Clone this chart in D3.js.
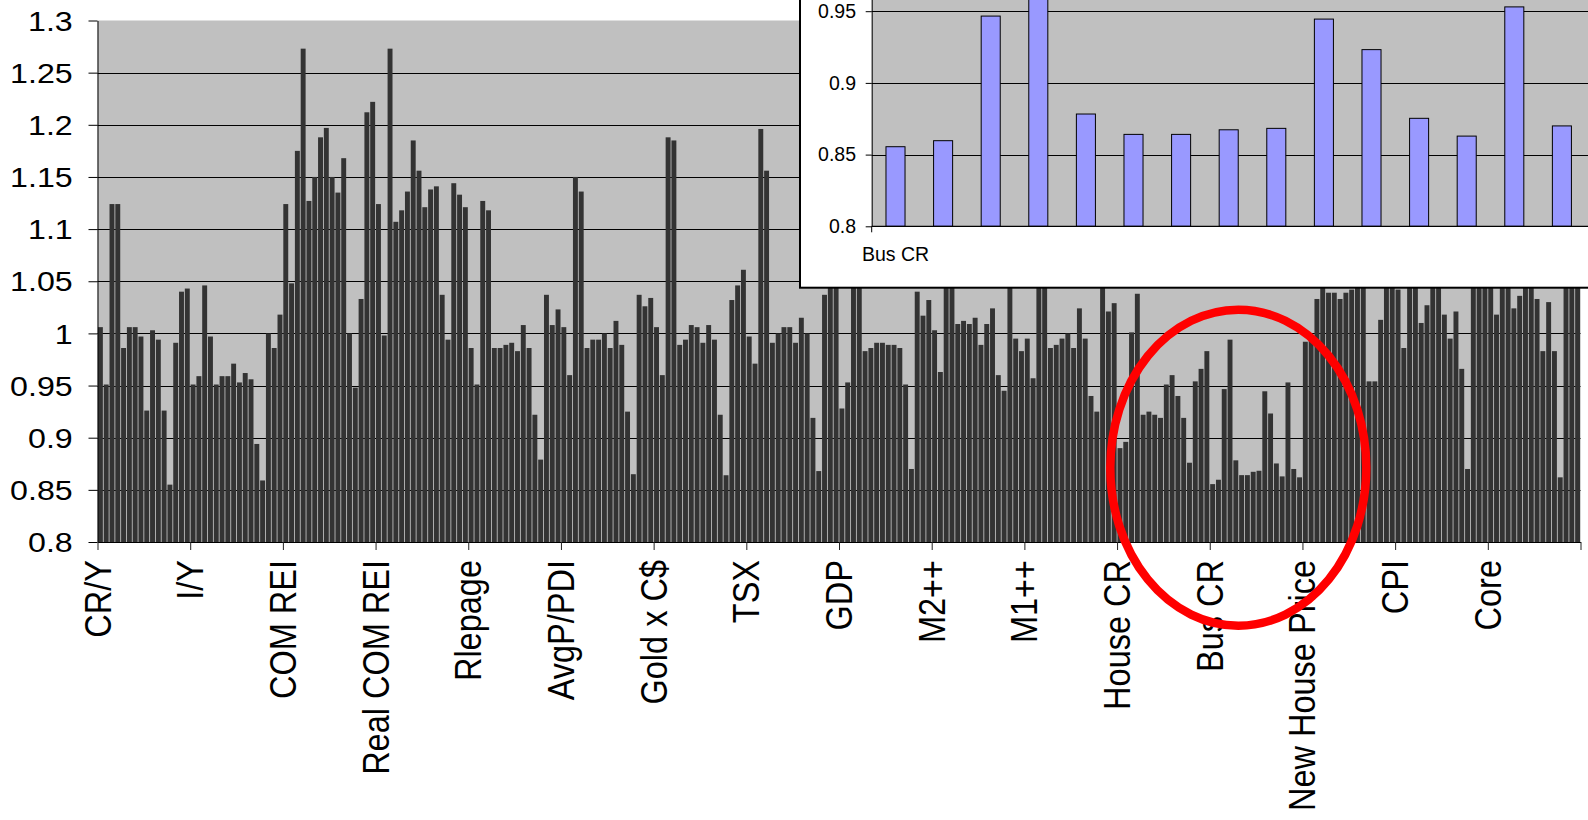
<!DOCTYPE html>
<html>
<head>
<meta charset="utf-8">
<script src="https://cdn.jsdelivr.net/npm/d3@7"></script>
<style>
  html, body { margin: 0; padding: 0; background: #fff; overflow: hidden; }
  svg { display: block; font-family: "Liberation Sans", Arial, sans-serif; }
</style>
</head>
<body>
<svg id="chart" width="1588" height="820"></svg>
<script>
// Indicator groups along the category axis (16 periods per indicator)
const categories = ["CR/Y", "I/Y", "COM REI", "Real COM REI", "Rlepage", "AvgP/PDI", "Gold x C$", "TSX",
                    "GDP", "M2++", "M1++", "House CR", "Bus CR", "New House Price", "CPI", "Core"];

// Ratio values, one array per indicator
const crY        = [1.006, 0.951, 1.124, 1.124, 0.986, 1.006, 1.006, 0.997, 0.926, 1.003, 0.994, 0.926, 0.855, 0.991, 1.040, 1.043];
const iY         = [0.951, 0.959, 1.046, 0.997, 0.951, 0.959, 0.959, 0.971, 0.953, 0.962, 0.956, 0.894, 0.859, 1.000, 0.986, 1.018];
const comREI     = [1.124, 1.048, 1.175, 1.273, 1.127, 1.150, 1.188, 1.197, 1.150, 1.135, 1.168, 1.000, 0.948, 1.033, 1.212, 1.222];
const realComREI = [1.124, 0.998, 1.273, 1.107, 1.118, 1.136, 1.185, 1.156, 1.121, 1.138, 1.141, 1.037, 0.994, 1.144, 1.133, 1.121];
const rlepage    = [0.986, 0.951, 1.127, 1.118, 0.986, 0.986, 0.989, 0.991, 0.983, 1.008, 0.986, 0.922, 0.879, 1.037, 1.008, 1.023];
const avgPPDI    = [1.006, 0.960, 1.150, 1.136, 0.986, 0.994, 0.994, 1.000, 0.986, 1.012, 0.989, 0.925, 0.865, 1.037, 1.026, 1.034];
const goldCAD    = [1.006, 0.960, 1.188, 1.185, 0.989, 0.994, 1.008, 1.006, 0.991, 1.008, 0.994, 0.922, 0.864, 1.032, 1.046, 1.061];
const tsx        = [0.997, 0.971, 1.196, 1.156, 0.991, 1.000, 1.006, 1.006, 0.991, 1.015, 1.000, 0.919, 0.868, 1.037, 1.075, 1.095];
const gdp        = [0.928, 0.953, 1.062, 1.085, 0.983, 0.986, 0.991, 0.991, 0.989, 0.989, 0.986, 0.951, 0.870, 1.040, 1.017, 1.032];
const m2pp       = [1.003, 0.963, 1.070, 1.052, 1.009, 1.012, 1.009, 1.015, 0.989, 1.009, 1.024, 0.960, 0.945, 1.058, 0.995, 0.983];
const m1pp       = [0.995, 0.957, 1.060, 1.090, 0.986, 0.989, 0.995, 1.000, 0.986, 1.024, 0.995, 0.940, 0.925, 1.050, 1.021, 1.029];
const houseCR    = [0.890, 0.896, 1.001, 1.038, 0.922, 0.925, 0.922, 0.919, 0.951, 0.960, 0.940, 0.919, 0.876, 0.954, 0.966, 0.983];
const busCR      = [0.8555, 0.8597, 0.9466, 0.994, 0.8783, 0.8641, 0.8641, 0.8673, 0.8683, 0.9445, 0.9232, 0.8753, 0.8629, 0.953, 0.870, 0.862];
const newHouse   = [0.992, 0.996, 1.033, 1.055, 1.039, 1.039, 1.033, 1.039, 1.042, 1.065, 1.080, 0.954, 0.954, 1.013, 1.070, 1.060];
const cpi        = [1.042, 0.986, 1.090, 1.110, 1.010, 1.027, 1.075, 1.060, 1.018, 0.995, 1.021, 0.966, 0.870, 1.085, 1.100, 1.065];
const core       = [1.070, 1.018, 1.060, 1.080, 1.024, 1.036, 1.055, 1.070, 1.033, 0.983, 1.030, 0.983, 0.862, 1.090, 1.075, 1.060];

// Value-axis ticks
const yTickValues = [0.8, 0.85, 0.9, 0.95, 1.0, 1.05, 1.1, 1.15, 1.2, 1.25, 1.3];
const yTickLabels = ["0.8", "0.85", "0.9", "0.95", "1", "1.05", "1.1", "1.15", "1.2", "1.25", "1.3"];

// Detail panel (Bus CR close-up)
const insetCategory = "Bus CR";
const insetTickValues = [0.8, 0.85, 0.9, 0.95];
const insetTickLabels = ["0.8", "0.85", "0.9", "0.95"];
const insetMax = 1.0;

const seriesByGroup = [crY, iY, comREI, realComREI, rlepage, avgPPDI, goldCAD, tsx,
                       gdp, m2pp, m1pp, houseCR, busCR, newHouse, cpi, core];
const values = seriesByGroup.flat();
const nGroups = categories.length;

const svg = d3.select("#chart");

// ---------- main chart ----------
const M = { left: 97.5, right: 1580.5, top: 20.5, bottom: 542 };
const x = d3.scaleBand().domain(d3.range(values.length))
  .range([M.left, M.right]).paddingInner(0.15).paddingOuter(0.075);
const y = d3.scaleLinear().domain([0.8, 1.3]).range([M.bottom, M.top]);
const gx = d3.scaleLinear().domain([0, nGroups]).range([M.left, M.right]);
const crisp = v => Math.round(v) + 0.5;

svg.append("rect")
  .attr("x", M.left).attr("y", M.top)
  .attr("width", M.right - M.left).attr("height", M.bottom - M.top)
  .attr("fill", "#C0C0C0");

svg.append("g").selectAll("line")
  .data(yTickValues.filter(v => v > 0.8 && v < 1.3))
  .join("line")
  .attr("x1", M.left).attr("x2", M.right)
  .attr("y1", d => crisp(y(d))).attr("y2", d => crisp(y(d)))
  .attr("stroke", "#000").attr("stroke-width", 1);

svg.append("g").selectAll("rect")
  .data(values)
  .join("rect")
  .attr("x", (d, i) => x(i))
  .attr("width", x.bandwidth())
  .attr("y", d => y(d))
  .attr("height", d => M.bottom - y(d))
  .attr("fill", "#333333");

// value axis
const yAxis = svg.append("g")
  .attr("transform", `translate(${M.left},0)`)
  .call(d3.axisLeft(y).tickValues(yTickValues)
    .tickFormat((d, i) => yTickLabels[i]).tickSize(9).tickSizeOuter(0));
yAxis.select(".domain").attr("stroke", "#000");
yAxis.selectAll(".tick line").attr("stroke", "#000");
yAxis.selectAll(".tick text")
  .attr("x", null).attr("dy", null)
  .attr("fill", "#000")
  .attr("font-size", 27.5)
  .attr("text-anchor", "end")
  .attr("dominant-baseline", "central")
  .attr("transform", "translate(-24.8,0) scale(1.17,1)");

// category axis
const xAxis = svg.append("g")
  .attr("transform", `translate(0,${M.bottom})`)
  .call(d3.axisBottom(gx).tickValues(d3.range(nGroups + 1))
    .tickFormat("").tickSize(8).tickSizeOuter(0));
xAxis.select(".domain").attr("stroke", "#000");
xAxis.selectAll(".tick line").attr("stroke", "#222");

svg.append("g").selectAll("text")
  .data(categories)
  .join("text")
  .attr("transform", (d, i) => `translate(${gx(i) + 13},560) scale(1.12,1) rotate(-90)`)
  .attr("text-anchor", "end")
  .attr("font-size", 32.5)
  .attr("fill", "#000")
  .text(d => d);

// ---------- detail panel ----------
const inset = svg.append("g");
const IP = { left: 871.7, bottom: 226.3, right: 1640 };
const yi = d3.scaleLinear().domain([0.8, insetMax]).range([IP.bottom, IP.bottom - (insetMax - 0.8) * 1434]);
const xi = d3.scaleBand().domain(d3.range(busCR.length))
  .range([IP.left, IP.left + 47.6 * busCR.length]).paddingInner(0.6).paddingOuter(0.3);

inset.append("rect")
  .attr("x", 800).attr("y", -20).attr("width", 840).attr("height", 307.7)
  .attr("fill", "#fff").attr("stroke", "#000").attr("stroke-width", 2);

inset.append("rect")
  .attr("x", IP.left).attr("y", yi(insetMax))
  .attr("width", IP.right - IP.left).attr("height", IP.bottom - yi(insetMax))
  .attr("fill", "#C0C0C0");

inset.append("g").selectAll("line")
  .data(insetTickValues.filter(v => v > 0.8))
  .join("line")
  .attr("x1", IP.left).attr("x2", IP.right)
  .attr("y1", d => crisp(yi(d))).attr("y2", d => crisp(yi(d)))
  .attr("stroke", "#000").attr("stroke-width", 1);

inset.append("g").selectAll("rect")
  .data(busCR)
  .join("rect")
  .attr("x", (d, i) => xi(i))
  .attr("width", xi.bandwidth())
  .attr("y", d => yi(d))
  .attr("height", d => IP.bottom - yi(d))
  .attr("fill", "#9999FF")
  .attr("stroke", "#000").attr("stroke-width", 1);

const yiAxis = inset.append("g")
  .attr("transform", `translate(${IP.left},0)`)
  .call(d3.axisLeft(yi).tickValues(insetTickValues)
    .tickFormat((d, i) => insetTickLabels[i]).tickSize(6).tickPadding(9.7).tickSizeOuter(0));
yiAxis.select(".domain").attr("stroke", "#000");
yiAxis.selectAll(".tick line").attr("stroke", "#000");
yiAxis.selectAll(".tick text").attr("font-size", 19.5).attr("fill", "#000");

inset.append("line")
  .attr("x1", IP.left).attr("x2", IP.right)
  .attr("y1", IP.bottom).attr("y2", IP.bottom)
  .attr("stroke", "#000").attr("stroke-width", 1.2);
inset.append("line")
  .attr("x1", IP.left).attr("x2", IP.left)
  .attr("y1", IP.bottom).attr("y2", IP.bottom + 6)
  .attr("stroke", "#000");
inset.append("text")
  .attr("x", xi(0) + xi.bandwidth() / 2).attr("y", 261)
  .attr("text-anchor", "middle")
  .attr("font-size", 19.5).attr("fill", "#000")
  .text(insetCategory);

// ---------- highlight ring around the Bus CR group ----------
svg.append("ellipse")
  .attr("cx", 1238.3).attr("cy", 467.7)
  .attr("rx", 128).attr("ry", 158)
  .attr("fill", "none")
  .attr("stroke", "#FF0000").attr("stroke-width", 8.5);
</script>
</body>
</html>
